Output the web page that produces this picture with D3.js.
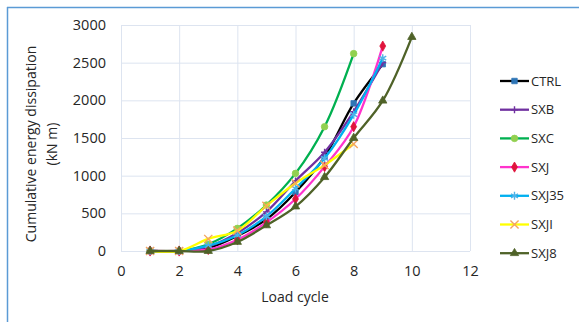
<!DOCTYPE html>
<html><head><meta charset="utf-8">
<script src="https://cdn.jsdelivr.net/npm/d3@7"></script>
<style>body{margin:0;background:#fff}svg{display:block}</style>
</head><body>
<script>
const cycles = [1,2,3,4,5,6,7,8,9,10];
const seriesNames = ["CTRL","SXB","SXC","SXJ","SXJ35","SXJI","SXJ8"];
const CTRL  = [0,0,40,200,420,780,1250,1960,2480];
const SXB   = [0,0,60,240,520,930,1310,1850,2500];
const SXC   = [0,0,90,300,610,1030,1650,2620];
const SXJ   = [0,0,20,150,380,690,1120,1650,2720];
const SXJ35 = [0,0,70,210,460,830,1230,1810,2560];
const SXJI  = [0,0,160,270,600,900,1140,1420];
const SXJ8  = [0,0,0,120,340,590,980,1500,1995,2840];
const xTicks = [0,2,4,6,8,10,12];
const yTicks = [0,500,1000,1500,2000,2500,3000];

const values = {CTRL,SXB,SXC,SXJ,SXJ35,SXJI,SXJ8};
const style = {
  CTRL:{line:"#000000",mark:"#2e75b6",shape:"square"},
  SXB:{line:"#7030a0",mark:"#7030a0",shape:"plus"},
  SXC:{line:"#00b050",mark:"#92d050",shape:"circle"},
  SXJ:{line:"#ff33cc",mark:"#e0143c",shape:"diamond"},
  SXJ35:{line:"#00b0f0",mark:"#4fb3e8",shape:"star"},
  SXJI:{line:"#ffff00",mark:"#f4a460",shape:"x"},
  SXJ8:{line:"#4f6228",mark:"#4f6228",shape:"triangle"}
};

const W=579,H=322;
const svg=d3.select("body").append("svg").attr("width",W).attr("height",H);
const font="'Open Sans', sans-serif";

// frame lines
svg.append("line").attr("x1",7).attr("x2",W).attr("y1",7.5).attr("y2",7.5).attr("stroke","#5b9bd5").attr("stroke-width",1.5);
svg.append("line").attr("x1",7.5).attr("x2",7.5).attr("y1",7).attr("y2",H).attr("stroke","#5b9bd5").attr("stroke-width",1.5);

const x=d3.scaleLinear().domain([0,12]).range([121,470]);
const y=d3.scaleLinear().domain([0,3000]).range([251,25]);

// grid
const g=svg.append("g");
g.selectAll(".vg").data(xTicks).join("line")
 .attr("x1",d=>x(d)+0.5).attr("x2",d=>x(d)+0.5).attr("y1",y(3000)).attr("y2",y(0))
 .attr("stroke","#dde4f0").attr("stroke-width",1);
g.selectAll(".hg").data(yTicks).join("line")
 .attr("x1",x(0)).attr("x2",x(12)).attr("y1",d=>y(d)+0.5).attr("y2",d=>y(d)+0.5)
 .attr("stroke","#dde4f0").attr("stroke-width",1);

// axes (labels only)
const xa=svg.append("g").attr("transform",`translate(0,${y(0)})`)
 .call(d3.axisBottom(x).tickValues(xTicks).tickFormat(d3.format("d")).tickSize(0).tickPadding(15));
const ya=svg.append("g").attr("transform",`translate(${x(0)},0)`)
 .call(d3.axisLeft(y).tickValues(yTicks).tickFormat(d3.format("d")).tickSize(0).tickPadding(15));
[xa,ya].forEach(a=>{a.select(".domain").remove();
 a.selectAll("text").attr("font-family",font).attr("font-size",14.5).attr("fill","#262626");});

// titles
svg.append("text").attr("x",295).attr("y",302).attr("text-anchor","middle")
 .attr("font-family",font).attr("font-size",14).attr("fill","#262626").text("Load cycle");
svg.append("text").attr("transform","translate(36,144) rotate(-90)").attr("text-anchor","middle")
 .attr("font-family",font).attr("font-size",14).attr("fill","#262626").text("Cumulative energy dissipation");
svg.append("text").attr("transform","translate(57,144) rotate(-90)").attr("text-anchor","middle")
 .attr("font-family",font).attr("font-size",14).attr("fill","#262626").text("(kN m)");

const symMap={square:d3.symbolSquare,circle:d3.symbolCircle,diamond:d3.symbolDiamond,
 star:d3.symbolAsterisk,x:d3.symbolX,triangle:d3.symbolTriangle};
function drawMarker(sel,s){
  const st=style[s];
  if(st.shape==="plus"){
    sel.append("path").attr("d","M-3.5,0H3.5M0,-3.5V3.5").attr("stroke",st.mark).attr("stroke-width",1.4).attr("fill","none");
  } else {
    const stroked=(st.shape==="star"||st.shape==="x");
    const sz= stroked?45:(st.shape==="circle"?34:30);
    sel.append("path").attr("d",d3.symbol().type(symMap[st.shape]).size(sz)())
      .attr("fill",stroked?"none":st.mark)
      .attr("stroke",st.mark).attr("stroke-width",stroked?1.4:0.8);
  }
}

const line=d3.line().x((d,i)=>x(cycles[i])).y(d=>y(d)).curve(d3.curveCatmullRom.alpha(0.5));
seriesNames.forEach(s=>{
  const vals=values[s];
  svg.append("path").attr("d",line(vals)).attr("fill","none")
    .attr("stroke",style[s].line).attr("stroke-width",2.3);
  vals.forEach((v,i)=>{
    const m=svg.append("g").attr("transform",`translate(${x(cycles[i])},${y(v)})`);
    drawMarker(m,s);
  });
});

// legend
const lg=svg.append("g");
seriesNames.forEach((s,i)=>{
  const yy=81+i*28.7;
  lg.append("line").attr("x1",500).attr("x2",529).attr("y1",yy).attr("y2",yy)
    .attr("stroke",style[s].line).attr("stroke-width",2.3);
  const m=lg.append("g").attr("transform",`translate(514.5,${yy})`);
  drawMarker(m,s);
  lg.append("text").attr("x",531).attr("y",yy).attr("dy","0.35em")
    .attr("font-family",font).attr("font-size",13).attr("fill","#262626").text(s);
});
</script>
</body></html>
